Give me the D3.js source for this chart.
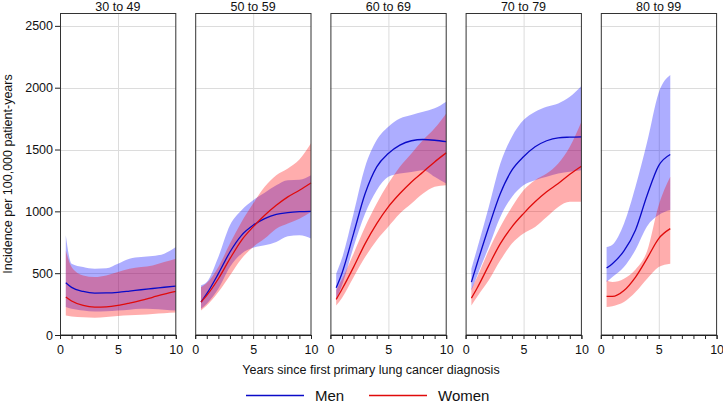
<!DOCTYPE html>
<html>
<head>
<meta charset="utf-8">
<script src="https://cdn.jsdelivr.net/npm/d3@7"></script>
<style>
  body { margin: 0; background: #fff; }
  svg { font-family: "Liberation Sans", Arial, sans-serif; }
</style>
</head>
<body>
<svg id="chart" width="723" height="403"></svg>
<script>
// age groups, one panel each
const ageGroups = ['30 to 49', '50 to 59', '60 to 69', '70 to 79', '80 to 99'];

// follow-up years (the oldest group stops at 6 years)
const years = [0.5, 1, 2, 3, 4, 5, 6, 7, 8, 9, 10];
const yearsOldest = [0.5, 1, 2, 3, 4, 5, 6];

// incidence per 100,000 patient-years
const menFit = [
  [423, 385, 352, 339, 340, 345, 355, 366, 376, 386, 396],
  [266, 334, 496, 671, 806, 887, 941, 976, 990, 997, 1000],
  [382, 500, 820, 1144, 1360, 1468, 1536, 1571, 1581, 1575, 1563],
  [428, 580, 873, 1144, 1333, 1441, 1522, 1571, 1595, 1600, 1603],
  [542, 577, 680, 850, 1130, 1370, 1460],
];
const menLow = [
  [226, 212, 198, 190, 192, 198, 205, 212, 210, 205, 198],
  [212, 253, 374, 550, 658, 706, 725, 752, 798, 806, 780],
  [290, 400, 712, 982, 1171, 1279, 1306, 1319, 1333, 1280, 1225],
  [360, 480, 712, 955, 1117, 1212, 1252, 1279, 1306, 1320, 1333],
  [428, 469, 550, 690, 880, 970, 1010],
];
const menHigh = [
  [806, 577, 550, 536, 540, 577, 617, 631, 639, 658, 712],
  [401, 428, 631, 887, 1009, 1090, 1150, 1211, 1252, 1255, 1292],
  [496, 620, 982, 1360, 1576, 1684, 1750, 1779, 1805, 1833, 1887],
  [536, 700, 1036, 1387, 1603, 1738, 1806, 1846, 1873, 1927, 2014],
  [712, 730, 900, 1200, 1560, 1960, 2103],
];
const womenFit = [
  [307, 275, 239, 226, 228, 239, 258, 280, 305, 330, 352],
  [266, 320, 455, 617, 766, 874, 968, 1049, 1117, 1171, 1230],
  [288, 370, 549, 739, 901, 1036, 1144, 1238, 1319, 1400, 1473],
  [298, 380, 563, 739, 875, 982, 1077, 1158, 1225, 1300, 1365],
  [312, 312, 360, 469, 620, 780, 860],
];
const womenLow = [
  [158, 150, 144, 140, 145, 154, 160, 163, 170, 176, 181],
  [199, 239, 347, 482, 617, 712, 780, 860, 901, 941, 995],
  [239, 300, 468, 630, 766, 875, 982, 1063, 1144, 1198, 1212],
  [239, 310, 442, 604, 739, 820, 874, 955, 1036, 1077, 1077],
  [226, 233, 266, 347, 455, 550, 577],
];
const womenHigh = [
  [685, 550, 482, 469, 482, 509, 536, 550, 563, 590, 617],
  [387, 420, 550, 739, 914, 1063, 1198, 1292, 1347, 1420, 1550],
  [361, 450, 658, 875, 1063, 1225, 1360, 1468, 1576, 1671, 1792],
  [374, 470, 685, 875, 1036, 1171, 1252, 1306, 1387, 1522, 1725],
  [442, 428, 455, 530, 680, 1050, 1280],
];

const yTicks = [0, 500, 1000, 1500, 2000, 2500];
const xTicks = [0, 5, 10];

const series = [
  { name: 'Men', fit: menFit, low: menLow, high: menHigh, line: '#0a0ac8', band: 'rgba(0,0,255,0.32)' },
  { name: 'Women', fit: womenFit, low: womenLow, high: womenHigh, line: '#e00b0b', band: 'rgba(255,0,0,0.32)' },
];

const font = '"Liberation Sans", Arial, sans-serif';
const panelLeft = 60;
const panelStep = 135.2;
const panelW = 115.8;
const plotTop = 13.5;
const plotBottom = 335;

const y = d3.scaleLinear().domain([0, 2600]).range([plotBottom, plotTop]);
const x = d3.scaleLinear().domain([0, 10]).range([0, panelW]);

const svg = d3.select('#chart');

ageGroups.forEach((group, i) => {
  const g = svg.append('g').attr('transform', `translate(${panelLeft + i * panelStep}, 0)`);
  const xs = i === 4 ? yearsOldest : years;

  // grid
  g.selectAll('.hgrid')
    .data(yTicks.slice(1))
    .enter()
    .append('line')
    .attr('x1', 0)
    .attr('x2', panelW)
    .attr('y1', d => Math.round(y(d)) + 0.5)
    .attr('y2', d => Math.round(y(d)) + 0.5)
    .attr('stroke', '#dcdcdc');
  g.append('line')
    .attr('x1', Math.round(x(5)) + 0.5)
    .attr('x2', Math.round(x(5)) + 0.5)
    .attr('y1', plotTop)
    .attr('y2', plotBottom)
    .attr('stroke', '#dcdcdc');

  // bands then lines
  series.forEach((s) => {
    const rows = xs.map((t, k) => ({ t, low: s.low[i][k], high: s.high[i][k] }));
    const area = d3.area()
      .x(d => x(d.t))
      .y0(d => y(d.low))
      .y1(d => y(d.high))
      .curve(d3.curveMonotoneX);
    g.append('path').datum(rows).attr('d', area).attr('fill', s.band);
  });
  series.forEach((s) => {
    const rows = xs.map((t, k) => ({ t, fit: s.fit[i][k] }));
    const line = d3.line()
      .x(d => x(d.t))
      .y(d => y(d.fit))
      .curve(d3.curveMonotoneX);
    g.append('path').datum(rows).attr('d', line)
      .attr('fill', 'none').attr('stroke', s.line).attr('stroke-width', 1.3);
  });

  // panel frame
  g.append('rect')
    .attr('x', 0.5)
    .attr('y', plotTop)
    .attr('width', panelW - 0.5)
    .attr('height', plotBottom - plotTop)
    .attr('fill', 'none')
    .attr('stroke', '#333');

  // x axis with a small tick every year
  const xAxis = d3.axisBottom(x)
    .tickValues(d3.range(0, 11))
    .tickSize(4)
    .tickPadding(6)
    .tickFormat(d => (xTicks.includes(d) ? d : ''));
  g.append('g')
    .attr('transform', `translate(0, ${plotBottom})`)
    .call(xAxis)
    .attr('font-size', 12.5)
    .attr('font-family', font)
    .call(a => a.selectAll('line').attr('stroke', '#222'))
    .call(a => a.select('.domain').attr('stroke', '#222'))
    .call(a => a.selectAll('text').attr('fill', '#111'));

  // header
  g.append('text')
    .attr('x', panelW / 2)
    .attr('y', 10.5)
    .attr('text-anchor', 'middle')
    .attr('font-size', 12.5)
    .attr('fill', '#111')
    .text(group);

  if (i === 0) {
    const yAxis = d3.axisLeft(y)
      .tickValues(yTicks)
      .tickSize(5)
      .tickPadding(2)
      .tickFormat(d3.format('d'));
    g.append('g')
      .call(yAxis)
      .attr('font-size', 12.5)
      .attr('font-family', font)
      .call(a => a.select('.domain').remove())
      .call(a => a.selectAll('line').attr('stroke', '#222'))
      .call(a => a.selectAll('text').attr('fill', '#111'));
  }
});

// axis titles
svg.append('text')
  .attr('x', 371)
  .attr('y', 374)
  .attr('text-anchor', 'middle')
  .attr('font-size', 12.5)
  .attr('fill', '#111')
  .text('Years since first primary lung cancer diagnosis');

svg.append('text')
  .attr('transform', 'translate(12, 174) rotate(-90)')
  .attr('text-anchor', 'middle')
  .attr('font-size', 12.5)
  .attr('fill', '#111')
  .text('Incidence per 100,000 patient-years');

// legend
const legendX = [246, 369];
series.forEach((s, k) => {
  const lg = svg.append('g').attr('transform', `translate(${legendX[k]}, 395.5)`);
  lg.append('line').attr('x1', 0).attr('x2', 58).attr('y1', 0).attr('y2', 0)
    .attr('stroke', s.line).attr('stroke-width', 1.4);
  lg.append('text').attr('x', 69).attr('y', 5)
    .attr('font-size', 15).attr('fill', '#111').text(s.name);
});
</script>
</body>
</html>
